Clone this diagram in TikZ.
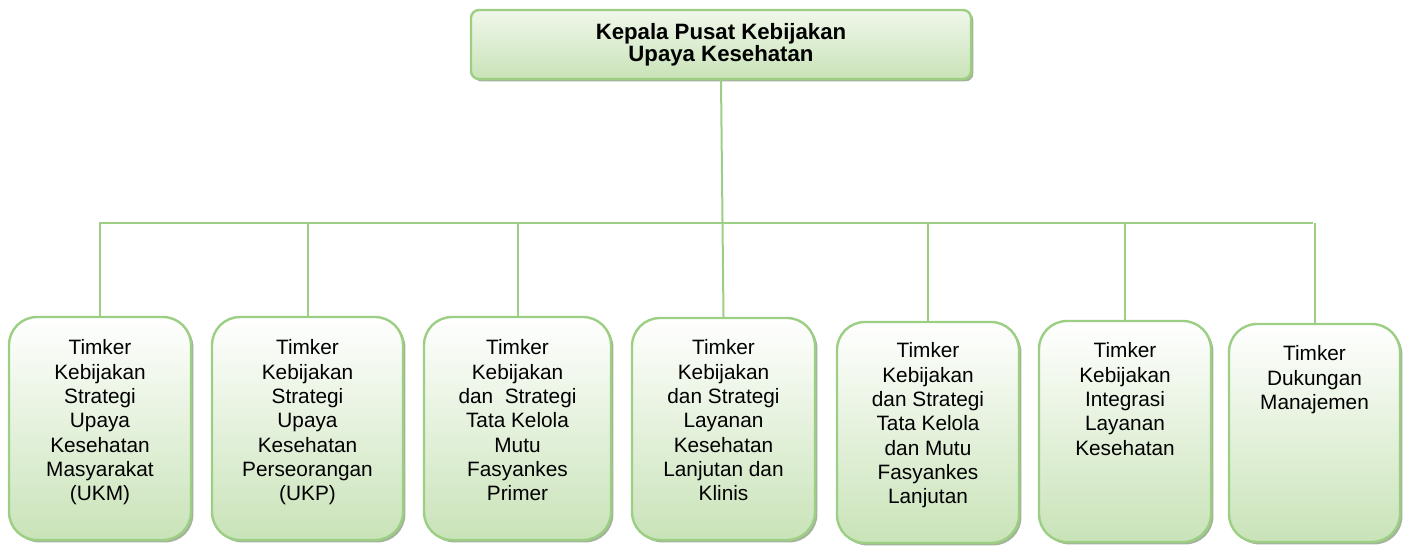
\documentclass[tikz,border=0pt]{standalone}
\usepackage{fontspec}
\setmainfont{Liberation Sans}
\usetikzlibrary{shadows}
\definecolor{orgline}{HTML}{9CCF84}
\definecolor{orgfill}{HTML}{C9E3B8}
\definecolor{orgtop}{HTML}{EFF7EA}
\definecolor{orgshadow}{HTML}{A3B39B}

\begin{document}
\begin{tikzpicture}[x=0.5pt,y=-0.5pt,
  every node/.style={font=\fontsize{10.4}{12.15}\selectfont},
  unitbox/.style={draw=orgline,line width=1.2pt,rounded corners=14pt,top color=white,bottom color=orgfill,
    drop shadow={shadow xshift=1.2pt,shadow yshift=-1.2pt,fill=orgshadow,opacity=1},inner sep=0pt},
  headbox/.style={draw=orgline,line width=1.2pt,rounded corners=4pt,top color=orgtop,bottom color=orgfill,
    drop shadow={shadow xshift=1.2pt,shadow yshift=-1.2pt,fill=orgshadow,opacity=1},align=center,
    font=\bfseries\fontsize{11.1}{11}\selectfont},
  unittext/.style={align=center,anchor=north,inner sep=0pt},
  link/.style={draw=orgline,line width=1pt}]
  \useasboundingbox (0,0) rectangle (1408,546);
  % head
  \node[headbox,minimum width=250pt,minimum height=34.5pt] (head) at (721,44.5)
    {Kepala Pusat Kebijakan\\Upaya Kesehatan};
  % units
  \node[unitbox,minimum width=91pt,minimum height=111.5pt] (u1) at (100,428.5) {};
  \node[unitbox,minimum width=95.5pt,minimum height=111.5pt] (u2) at (307.5,428.5) {};
  \node[unitbox,minimum width=93.5pt,minimum height=111.5pt] (u3) at (517.5,428.5) {};
  \node[unitbox,minimum width=91.5pt,minimum height=111pt] (u4) at (723.5,429) {};
  \node[unitbox,minimum width=91pt,minimum height=110.5pt] (u5) at (928,432.5) {};
  \node[unitbox,minimum width=86pt,minimum height=110.5pt] (u6) at (1125,431.5) {};
  \node[unitbox,minimum width=85.5pt,minimum height=109pt] (u7) at (1314.5,433) {};
  % unit texts
  \node[unittext] (t1) at ([yshift=-11.85pt]u1.north)
    {Timker\\Kebijakan\\Strategi\\Upaya\\Kesehatan\\Masyarakat\\(UKM)};
  \node[unittext] (t2) at ([yshift=-11.85pt]u2.north)
    {Timker\\Kebijakan\\Strategi\\Upaya\\Kesehatan\\Perseorangan\\(UKP)};
  \node[unittext] (t3) at ([yshift=-11.85pt]u3.north)
    {Timker\\Kebijakan\\dan~ Strategi\\Tata Kelola\\Mutu\\Fasyankes\\Primer};
  \node[unittext] (t4) at ([yshift=-11.35pt]u4.north)
    {Timker\\Kebijakan\\dan Strategi\\Layanan\\Kesehatan\\Lanjutan dan\\Klinis};
  \node[unittext] (t5) at ([yshift=-10.8pt]u5.north)
    {Timker\\Kebijakan\\dan Strategi\\Tata Kelola\\dan Mutu\\Fasyankes\\Lanjutan};
  \node[unittext] (t6) at ([yshift=-11.3pt]u6.north)
    {Timker\\Kebijakan\\Integrasi\\Layanan\\Kesehatan};
  \node[unittext] (t7) at ([yshift=-11.3pt]u7.north)
    {Timker\\Dukungan\\Manajemen};
  % connectors
  \coordinate (busL) at (99,223);
  \coordinate (busR) at (1313,223);
  \draw[link] (busL) -- (busR);
  \draw[link] (head.south) -- (u4.north);
  \draw[link] (u1.north |- busL) -- (u1.north);
  \draw[link] (u2.north |- busL) -- (u2.north);
  \draw[link] (u3.north |- busL) -- (u3.north);
  \draw[link] (u5.north |- busL) -- (u5.north);
  \draw[link] (u6.north |- busL) -- (u6.north);
  \draw[link] (u7.north |- busL) -- (u7.north);
\end{tikzpicture}
\end{document}
